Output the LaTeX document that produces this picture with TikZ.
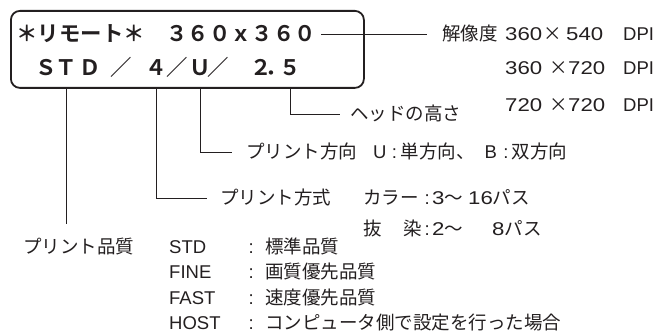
\documentclass[tikz,border=0pt]{standalone}
\usepackage{fontspec}
\setmainfont{Noto Sans CJK JP}[BoldFont={Noto Sans CJK JP Bold}]
\newfontfamily\lat{Liberation Sans}
\newfontfamily\latw{Liberation Sans}[FakeStretch=1.2]
\definecolor{ink}{HTML}{231F20}
\begin{document}
\begin{tikzpicture}[x=1pt,y=-1pt,
  txt/.style={inner sep=0pt, anchor=west, text height=13.3pt, text depth=0pt,
              font=\fontsize{18.5}{22}\selectfont, text=ink},
  boxtxt/.style={inner sep=0pt, text height=15.4pt, text depth=0pt,
              font=\fontsize{21.4}{24}\selectfont\bfseries, text=ink},
  conn/.style={draw=ink, line width=0.9pt},
]
\useasboundingbox (0,0) rectangle (662,336);
\node[draw=ink, line width=1.8pt, rounded corners=9pt, minimum width=353pt,
      minimum height=77pt, anchor=north west, inner sep=0pt] (box) at (10,10) {};
\node[boxtxt, anchor=west] (l1) at (16.3,34) {＊リモート＊　３６０ｘ３６０};
\foreach \g/\x [count=\i] in {Ｓ/46, Ｔ/66, Ｄ/90, ／/121, ４/156, ／/177, Ｕ/200, ／/218, ２/261, ．/276, ５/290}
  \node[boxtxt, anchor=center] (g\i) at (\x,68) {\g};

\node[txt] (res1) at (442,34) {\makebox[63pt][l]{解像度}\makebox[38pt][l]{\latw 360}\makebox[19pt]{×}\makebox[61pt][l]{\hspace{4pt}\latw 540}{\lat DPI}};
\node[txt] (res2) at (505,68) {\makebox[44pt][l]{\latw 360}\makebox[19pt]{×}\makebox[55pt][l]{\latw 720}{\lat DPI}};
\node[txt] (res3) at (505,105) {\makebox[44pt][l]{\latw 720}\makebox[19pt]{×}\makebox[55pt][l]{\latw 720}{\lat DPI}};
\node[txt] (head) at (350,114) {ヘッドの高さ};
\node[txt] (dir) at (246,152) {\makebox[127pt][l]{プリント方向}{\lat U}\hspace{2pt}\makebox[12pt]{\lat :}単方向、\hspace{10pt}{\lat B}\hspace{3pt}\makebox[12pt]{\lat :}双方向};
\node[txt] (mode) at (220,198) {プリント方式};
\node[txt] (color) at (363,198) {\makebox[59pt][l]{カラー}\makebox[10pt]{\lat :}\makebox[36pt][l]{{\latw 3}～}{\latw 16}パス};
\node[txt] (nassen) at (363,229) {\makebox[59pt][l]{抜\hfill 染}\makebox[10pt]{\lat :}\makebox[60pt][l]{{\latw 2}～}{\latw 8}パス};
\node[txt] (qual) at (23,247) {プリント品質};
\foreach \k/\v/\y [count=\j] in {STD/標準品質/247, FINE/画質優先品質/272, FAST/速度優先品質/298, HOST/コンピュータ側で設定を行った場合/323}
  \node[txt] (q\j) at (169,\y) {\makebox[76pt][l]{\lat \k}\makebox[12pt]{\lat :}\hspace{8pt}\v};

\coordinate (qtop) at (66,224);
\draw[conn] ([xshift=5pt]l1.east) -- ([xshift=-15pt]res1.west);
\draw[conn] (g2 |- box.south) -- (qtop);
\draw[conn] (g5 |- box.south) |- ([xshift=-13pt]mode.west);
\draw[conn] (g7 |- box.south) |- ([xshift=-14pt]dir.west);
\draw[conn] (g11 |- box.south) |- ([xshift=-10pt]head.west);
\end{tikzpicture}
\end{document}
